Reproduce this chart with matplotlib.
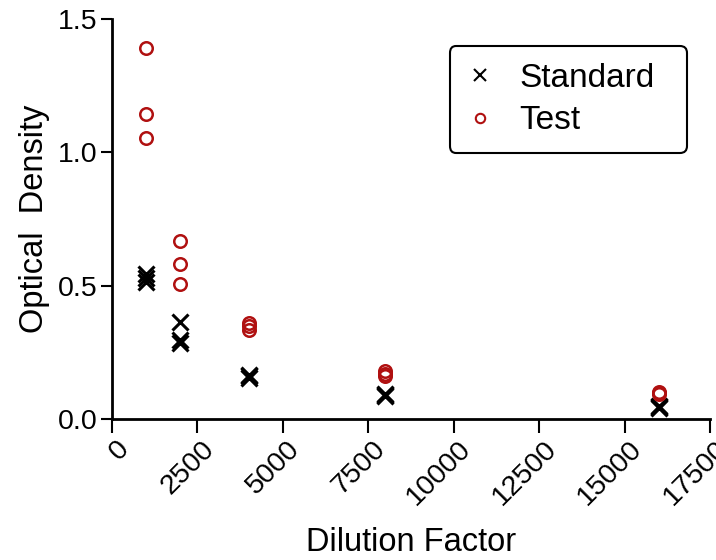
import matplotlib.pyplot as plt
import matplotlib.transforms as mtransforms
import numpy as np

plt.rcParams['font.family'] = ['Liberation Sans', 'DejaVu Sans']

# dilution factors and optical density readings (triplicates)
std_dilution = [1000, 1000, 1000, 2000, 2000, 2000, 4000, 4000, 4000,
                8000, 8000, 8000, 16000, 16000, 16000]
std_od = [0.545, 0.53, 0.515, 0.362, 0.295, 0.285, 0.165, 0.16, 0.155,
          0.095, 0.09, 0.085, 0.05, 0.045, 0.04]

test_dilution = [1000, 1000, 1000, 2000, 2000, 2000, 4000, 4000, 4000,
                 8000, 8000, 8000, 16000, 16000, 16000]
test_od = [1.39, 1.144, 1.054, 0.668, 0.581, 0.506, 0.36, 0.348, 0.335,
           0.18, 0.17, 0.16, 0.1, 0.097, 0.095]

xticks = [0, 2500, 5000, 7500, 10000, 12500, 15000, 17500]
yticks = [0.0, 0.5, 1.0, 1.5]

fig = plt.figure(figsize=(7.16, 5.6), dpi=100)
ax = fig.add_axes([0.156, 0.252, 0.836, 0.714])

ax.plot(std_dilution, std_od, 'x', color='black', markersize=11,
        markeredgewidth=2.2, label='Standard', clip_on=False)
ax.plot(test_dilution, test_od, 'o', color='#b01010', markerfacecolor='none',
        markersize=9, markeredgewidth=1.8, label='Test', clip_on=False)

ax.set_xlim(0, 17500)
ax.set_ylim(0, 1.5)
ax.set_xticks(xticks)
ax.set_xticklabels([str(t) for t in xticks], rotation=45, ha='right',
                   rotation_mode='anchor')
ax.set_yticks(yticks)
ax.set_yticklabels(['%.1f' % t for t in yticks])

for s in ['top', 'right']:
    ax.spines[s].set_visible(False)
for s in ['left', 'bottom']:
    ax.spines[s].set_linewidth(2)
ax.tick_params(width=1.5, length=10, labelsize=20.5)
ax.tick_params(axis='y', length=8, pad=2)
ax.tick_params(axis='x', pad=2)
# shift rotated x labels a little right of their ticks
off = mtransforms.ScaledTranslation(4 / 100, 0, fig.dpi_scale_trans)
for lbl in ax.get_xticklabels():
    lbl.set_transform(lbl.get_transform() + off)

ax.set_xlabel('Dilution Factor', fontsize=23.5, labelpad=12)
ax.set_ylabel('Optical  Density', fontsize=23.5, labelpad=6)

# legend box stretched to a fixed width, entries kept to the left
leg = ax.legend(loc='upper left', bbox_to_anchor=(0.5646, 0.5, 0.3964, 0.4325),
                mode='expand', borderaxespad=0, fontsize=24,
                markerscale=0.75, handlelength=0.8, handletextpad=0.8,
                borderpad=0.5, labelspacing=0.35,
                fancybox=True, framealpha=1, edgecolor='black')
leg.get_frame().set_linewidth(1.5)
for h in leg.legend_handles:
    h.set_markeredgewidth(1.5)

fig.savefig('out.png', dpi=100)
